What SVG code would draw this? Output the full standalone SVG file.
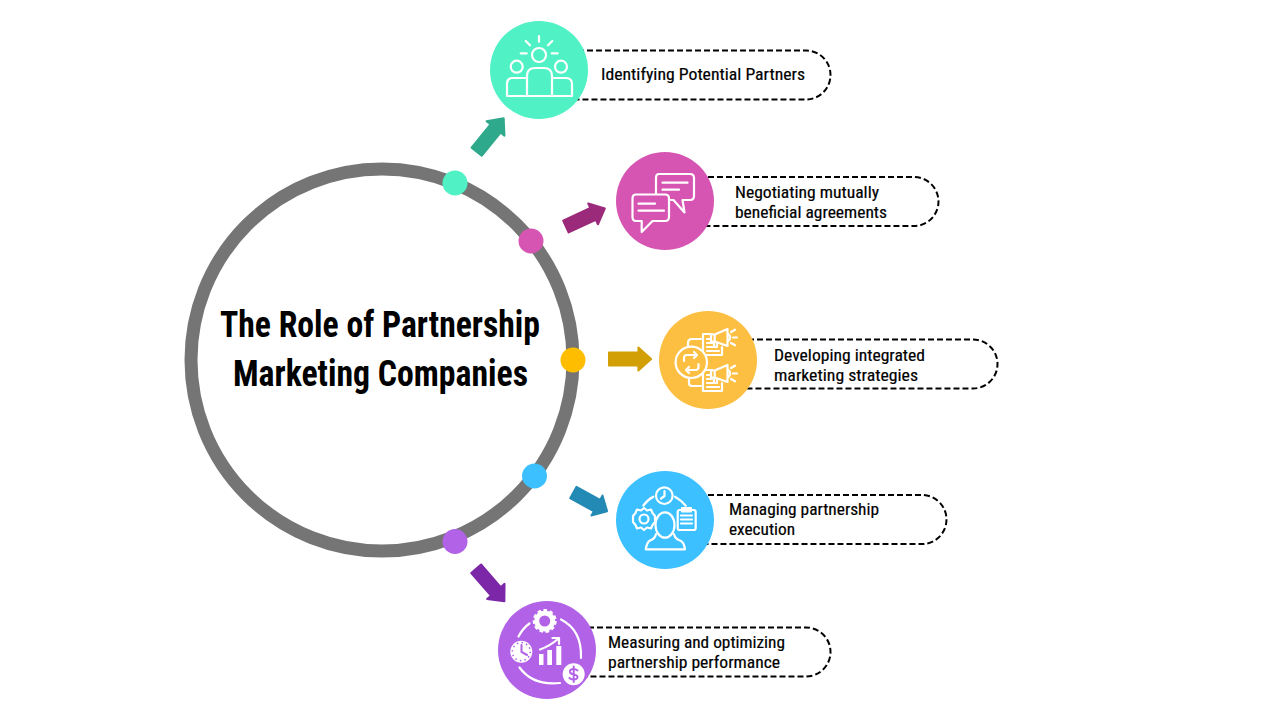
<svg xmlns="http://www.w3.org/2000/svg" width="1280" height="720" viewBox="0 0 1280 720">
<style>
text{font-family:"Liberation Sans Narrow","Roboto Condensed","Liberation Sans",sans-serif;fill:#000}
.t{font-size:36px;font-weight:700}
.l{font-size:17px;stroke:#000;stroke-width:.2}
.p{fill:none;stroke:#000;stroke-width:2;stroke-dasharray:6 3}
.i{fill:none;stroke:#fff;stroke-width:2.200;stroke-linecap:round;stroke-linejoin:round}
.w{fill:#fff}
</style>
<defs>
<path id="arr" d="M1-6.500H31V-11.500L44 0L31 11.500V6.500H1Z" stroke-width="2" stroke-linejoin="round"/>
<g id="docmeg">
<path d="M703 334V355H722M712 334H703M722 347V355"/>
<path d="M707 339H711M707 343H712M707 347H713M707 351H719"/>
<path d="M714.700 334.500L727.500 329V346L714.700 341.500ZM714.700 334.500H711V341.500H714.700M714 342V347H717V343M727.500 333Q733 337.500 727.500 342"/>
<path d="M731 332L735 329.700M733 337.500H737M731 343L735 345.300"/>
</g>
</defs>
<g id="hub"><circle cx="382" cy="360" r="191" fill="#fff" stroke="#757575" stroke-width="13"/>
<text class="t" x="220" y="337" textLength="320" lengthAdjust="spacingAndGlyphs">The Role of Partnership</text>
<text class="t" x="233" y="386" textLength="295" lengthAdjust="spacingAndGlyphs">Marketing Companies</text></g>
<g id="connectors">
<path class="p" d="M560 50.500H806A24.500 24.500 0 0 1 806 99.500H560"/>
<path class="p" d="M690 177H914A24.500 24.500 0 0 1 914 226H690"/>
<path class="p" d="M730 339.500H973A24.500 24.500 0 0 1 973 388.500H730"/>
<path class="p" d="M690 495H922A24.500 24.500 0 0 1 922 544H690"/>
<path class="p" d="M570 627.500H806A24.500 24.500 0 0 1 806 676.500H570"/>
<use href="#arr" fill="#2fa98c" stroke="#2fa98c" transform="translate(476 152.500) rotate(-51)"/>
<use href="#arr" fill="#9b2a7b" stroke="#9b2a7b" transform="translate(565 227) rotate(-25)"/>
<use href="#arr" fill="#d29f06" stroke="#d29f06" transform="translate(608 359) scale(.98 1)"/>
<use href="#arr" fill="#2389b5" stroke="#2389b5" transform="translate(572.500 492) rotate(29) scale(.9 1)"/>
<use href="#arr" fill="#7c27a8" stroke="#7c27a8" transform="translate(475.500 568) rotate(49)"/>
</g>
<g id="dots">
<circle cx="455" cy="183" r="12.500" fill="#50f2c5"/>
<circle cx="531" cy="241" r="12.500" fill="#d655b2"/>
<circle cx="573" cy="360" r="12.500" fill="#ffbd00"/>
<circle cx="534.500" cy="476" r="12.500" fill="#3cc0ff"/>
<circle cx="455" cy="541.500" r="12.500" fill="#b262e6"/>
</g>
<g id="node1"><circle cx="539" cy="70" r="49" fill="#50f2c5"/>
<g class="i"><circle cx="539" cy="55" r="7"/><circle cx="516.700" cy="66.700" r="6"/><circle cx="561" cy="66.700" r="6"/>
<path d="M527 96V76Q527 68 535 68H544Q552 68 552 76V96"/>
<path d="M527 78H513Q507 78 507 84V96H572V84Q572 78 566 78H552"/>
<path d="M539 36V41.700M525.700 41L530 45.300M552.300 41L548 45.300M520.700 53.300H526.700M551.700 53.300H557.700"/></g>
<text class="l" x="601" y="79.500" textLength="204" lengthAdjust="spacingAndGlyphs">Identifying Potential Partners</text></g>
<g id="node2"><circle cx="665" cy="201" r="49" fill="#d655b2"/>
<g class="i"><path d="M659 174H690Q694 174 694 178V196Q694 200 690 200H682.500L684.500 212.500L673.500 200H660Q656 200 656 196V178Q656 174 659 174Z"/>
<path d="M636 194.500H665Q669 194.500 669 198.500V217Q669 221 665 221H652.500L641.700 232V221H636Q632.500 221 632.500 217V198.500Q632.500 194.500 636 194.500Z" fill="#d655b2"/>
<path d="M662.500 182.700H687.500M662.500 189.700H679M638.500 203.700H655M638.500 210.700H664"/></g>
<text class="l" x="735" y="197.500" textLength="144" lengthAdjust="spacingAndGlyphs">Negotiating mutually</text>
<text class="l" x="735" y="217.500" textLength="152" lengthAdjust="spacingAndGlyphs">beneficial agreements</text></g>
<g id="node3"><circle cx="708" cy="360" r="49" fill="#fdbf42"/>
<g class="i"><use href="#docmeg"/><use href="#docmeg" y="36"/>
<path d="M688 346V343Q688 339 692 339H701M689 378V383Q689 386 692 386H701"/>
<circle cx="691.300" cy="362.300" r="15.700" fill="#fdbf42"/>
<path d="M684 361V358Q684 355 687 355H697L694 352M697 355L694 358M698.500 364V367Q698.500 370 695.500 370H686L689 373M686 370L689 367"/></g>
<text class="l" x="774" y="360.500" textLength="151" lengthAdjust="spacingAndGlyphs">Developing integrated</text>
<text class="l" x="774" y="380.500" textLength="144" lengthAdjust="spacingAndGlyphs">marketing strategies</text></g>
<g id="node4"><circle cx="665" cy="520" r="49" fill="#3cc0ff"/>
<g class="i"><circle cx="664.300" cy="495.700" r="8.300"/><path d="M664.500 491V496L661 498.500"/>
<path d="M643.300 505.700Q647 500 653.300 496.700M675 496.700Q681 500 685.700 505.700"/>
<circle cx="644" cy="519" r="4.500"/>
<path d="M644 508L647 510.500L651 509.500L652.500 513L655 516V522L652.500 525L651 528.500L647 527.500L644 530L641 527.500L637 528.500L635.500 525L633 522V516L635.500 513L637 509.500L641 510.500Z"/>
<rect x="677.700" y="510" width="18" height="20" rx="2"/><rect x="682" y="508" width="9" height="3.500" fill="#fff"/>
<path d="M681 515.500H692M681 519.500H692M681 523.500H692"/>
<ellipse cx="665" cy="525" rx="9.500" ry="12.700"/>
<path d="M656 534Q655 539 650 540.500Q647 542 645.700 549.300H685Q684 542 680 540.500Q675 539 674 534"/></g>
<text class="l" x="729" y="514.500" textLength="150" lengthAdjust="spacingAndGlyphs">Managing partnership</text>
<text class="l" x="729" y="534.500" textLength="66" lengthAdjust="spacingAndGlyphs">execution</text></g>
<g id="node5"><circle cx="547" cy="650" r="49" fill="#b262e6"/>
<g class="i"><path d="M518.500 636.500Q523 628 529.500 623.500M561 619.500Q582 630 581 658M519.500 667.500Q533 686 560 683M540 649.500Q550 646 558.500 638.500M552.500 638H559V644"/></g>
<circle cx="544.700" cy="621" r="8" fill="none" stroke="#fff" stroke-width="5"/>
<circle cx="544.700" cy="621" r="10.500" fill="none" stroke="#fff" stroke-width="3" stroke-dasharray="3.500 2.500"/>
<circle class="w" cx="521.300" cy="651.700" r="11"/>
<circle cx="521.300" cy="651.700" r="9" fill="none" stroke="#b262e6" stroke-width="1.500" stroke-dasharray="1.500 3.200"/>
<path d="M521.500 645V652L527 655" fill="none" stroke="#b262e6" stroke-width="2" stroke-linecap="round"/>
<rect class="w" x="539" y="654" width="4.500" height="11"/><rect class="w" x="547.300" y="650" width="4.700" height="15"/><rect class="w" x="556.300" y="646" width="5" height="19"/>
<circle class="w" cx="573.700" cy="674.300" r="11"/>
<path d="M577.500 670.500Q575 668.500 573 669Q569.500 669.500 570 672Q570.500 674 574 674.500Q578 675.500 577.500 677.500Q576.500 680 573 679.500Q571 679.500 569.500 678M573.700 666.500V682" fill="none" stroke="#b262e6" stroke-width="2" stroke-linecap="round"/>
<text class="l" x="608" y="647.500" textLength="177" lengthAdjust="spacingAndGlyphs">Measuring and optimizing</text>
<text class="l" x="608" y="667.500" textLength="172" lengthAdjust="spacingAndGlyphs">partnership performance</text></g>
</svg>
